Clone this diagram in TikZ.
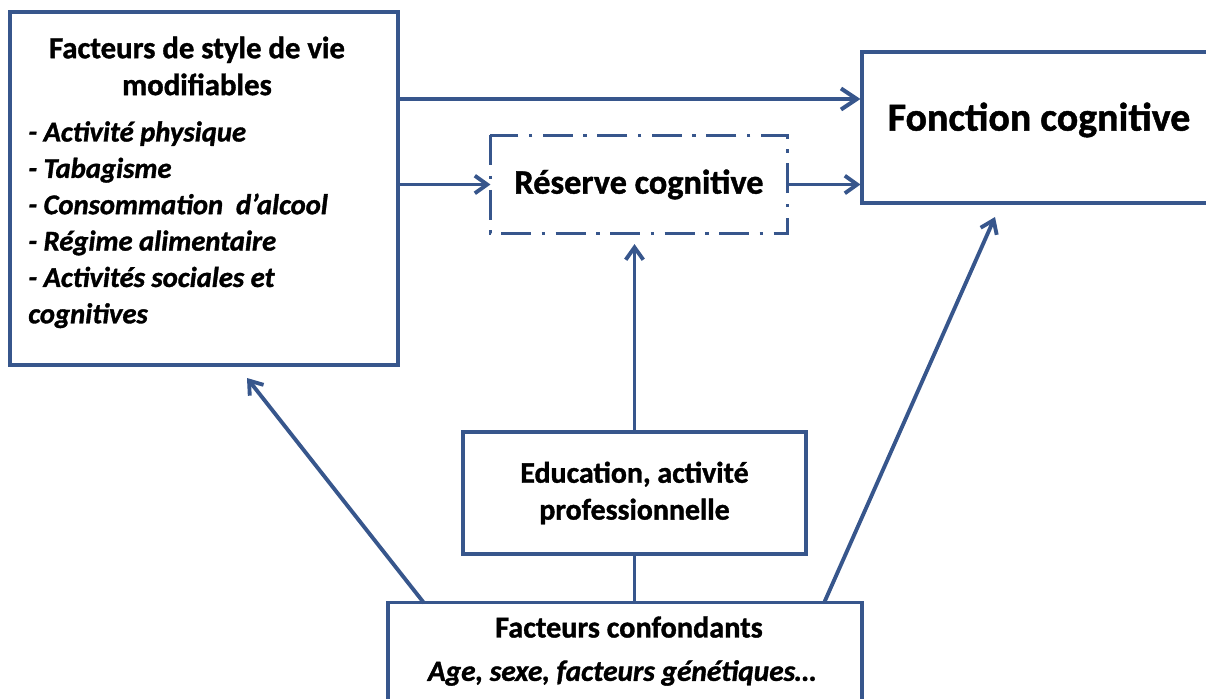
\documentclass[tikz,border=0pt]{standalone}
\usepackage{fontspec}
\setmainfont{Carlito}[BoldFeatures={FakeBold=1.2}, BoldItalicFeatures={FakeBold=1.2}]
\usetikzlibrary{positioning, arrows.meta}
\definecolor{boxblue}{RGB}{55,86,140}

\begin{document}
\begin{tikzpicture}[x=0.02cm, y=-0.02cm,
                    sqnode/.style={draw=boxblue, line width=1.8pt, fill=white, inner sep=0pt},
                    carrow/.style={-{Straight Barb[length=7pt, width=10pt]}, draw=boxblue, line width=2.2pt},
                    bigarrow/.style={-{Straight Barb[length=9pt, width=12pt]}, draw=boxblue, line width=2.3pt}]
    \useasboundingbox (0,0) rectangle (1206,699);
    \begin{scope}
        \clip (0,0) rectangle (1206,699);
        % boxes
        \draw (204,188.5) node[sqnode, minimum width=7.76cm, minimum height=7.06cm] (lifestyle) {}
              (1039,127.5) node[sqnode, minimum width=7.08cm, minimum height=3.02cm] (fonction) {}
              (639,184.5) node[sqnode, draw=none, minimum width=5.88cm, minimum height=1.9cm] (reserve) {}
              (634.5,493) node[sqnode, minimum width=6.86cm, minimum height=2.44cm] (education) {}
              (625,670) node[sqnode, minimum width=9.48cm, minimum height=2.7cm] (confound) {};
        \draw[boxblue, line width=1.8pt, dash pattern=on 17pt off 6pt on 2pt off 6pt]
              (reserve.north west) rectangle (reserve.south east);
        % texts
        \draw (197,66) node[align=center, font=\fontsize{17.5}{21}\selectfont\bfseries] (lifetitle) {Facteurs de style de vie\\modifiables}
              (28,121) node[anchor=north west, align=left, inner sep=0pt, font=\fontsize{16.3}{20.7}\selectfont\bfseries\itshape] (lifeitems)
                  {- Activité physique\\- Tabagisme\\- Consommation\ \ d’alcool\\- Régime alimentaire\\- Activités sociales et\\cognitives}
              (fonction.center |- 0,120) node[font=\fontsize{22.7}{26}\selectfont\bfseries] (fontitle) {Fonction cognitive}
              (reserve.center) node[font=\fontsize{19.5}{22}\selectfont\bfseries] (restitle) {Réserve cognitive}
              (education.center) node[align=center, font=\fontsize{17}{21}\selectfont\bfseries] (edutitle) {Education, activité\\professionnelle}
              (629,627) node[font=\fontsize{17.2}{20}\selectfont\bfseries] (conftitle) {Facteurs confondants}
              (622,673) node[font=\fontsize{16.7}{20}\selectfont\bfseries\itshape] (confitems) {Age, sexe, facteurs génétiques…};
        % connectors
        \coordinate (fin1) at ([yshift=0.57cm]fonction.west);
        \draw[bigarrow] (lifestyle.east |- fin1) -- (fin1);
        \draw[carrow] (lifestyle.east |- reserve.west) -- (reserve.west);
        \draw[carrow] (reserve.east) -- (fonction.west |- reserve.east);
        \draw[carrow, shorten >=6pt] (education.north) -- (education.north |- reserve.south);
        \draw[line width=2.2pt, boxblue] (education.south) -- (education.south |- confound.north);
        \coordinate (cl) at (424,603);
        \coordinate (cr) at (824,603);
        \coordinate (tl) at (247,378);
        \coordinate (tr) at (995,217);
        \draw[carrow] (cl) -- (tl);
        \draw[carrow] (cr) -- (tr);
    \end{scope}
\end{tikzpicture}
\end{document}
